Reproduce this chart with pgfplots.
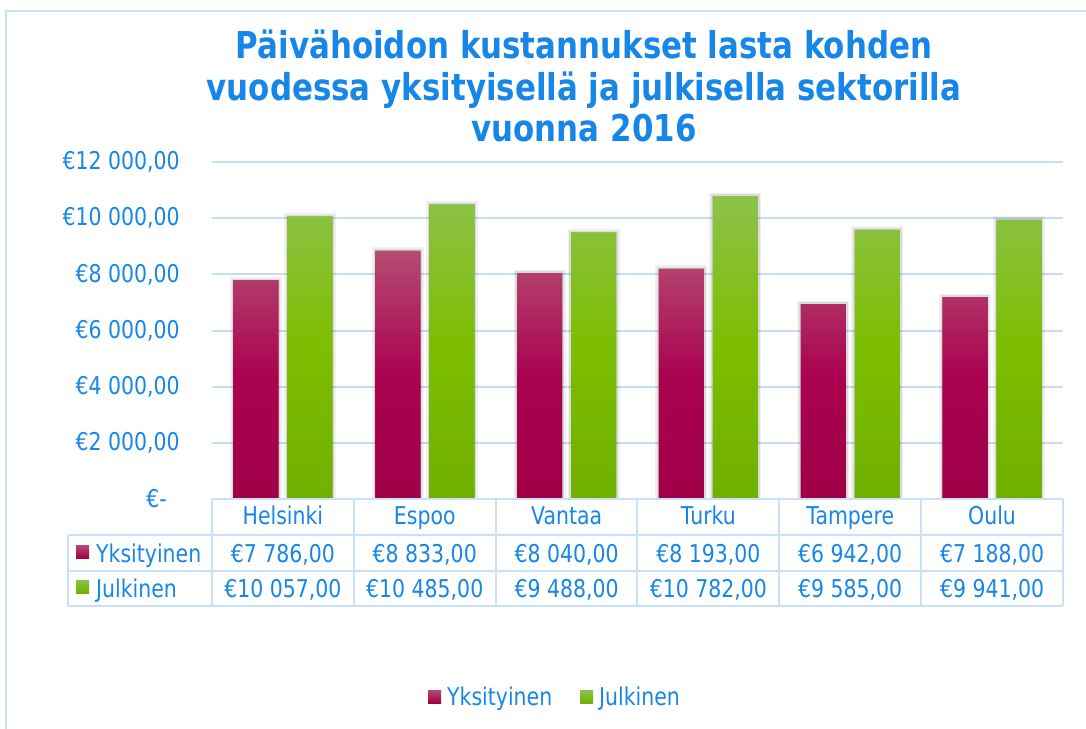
\documentclass[border=0pt]{standalone}
\usepackage{fontspec}
\setmainfont[FakeStretch=0.835]{DejaVu Sans}
\usepackage{pgfplots}
\usepackage{pgfplotstable}
\pgfplotsset{compat=1.18}
\definecolor{txtblue}{RGB}{22,134,232}
\definecolor{gridblue}{RGB}{197,222,248}
\definecolor{tblblue}{RGB}{200,224,248}
\definecolor{redtop}{RGB}{180,76,114}
\definecolor{redmid}{RGB}{170,2,80}
\definecolor{redbot}{RGB}{160,0,72}
\definecolor{grntop}{RGB}{140,194,74}
\definecolor{grnmid}{RGB}{124,190,0}
\definecolor{grnbot}{RGB}{112,176,0}
\newcommand{\tickfont}{\fontsize{24.5}{29}\selectfont}
\pgfplotstableread{
x city yk ju
0 Helsinki 7786 10057
1 Espoo 8833 10485
2 Vantaa 8040 9488
3 Turku 8193 10782
4 Tampere 6942 9585
5 Oulu 7188 9941
}\data
\begin{document}
\begin{tikzpicture}[x=1pt,y=1pt]
\path[use as bounding box] (0,0) rectangle (1086,-728);
% outer frame
\draw[tblblue, line width=2pt] (6,-740) -- (6,-11) -- (1100,-11);
% title
\begin{scope}[every node/.style={anchor=base, text=txtblue, font=\fontsize{37}{41.5}\selectfont\bfseries, inner sep=0pt}]
\node at (584,-58) {Päivähoidon kustannukset lasta kohden};
\node at (584,-100) {vuodessa yksityisellä ja julkisella sektorilla};
\node at (584,-141) {vuonna 2016};
\end{scope}
\begin{axis}[
  at={(212pt,-499pt)}, anchor=south west,
  scale only axis, width=851pt, height=337pt,
  xmin=-0.5, xmax=5.5, ymin=0, ymax=12000,
  axis line style={draw=none},
  major tick length=0pt,
  scaled ticks=false,
  ymajorgrids, grid style={line width=2pt, gridblue},
  ytick={0,2000,4000,6000,8000,10000,12000},
  yticklabels={{}, {€2 000,00}, {€4 000,00}, {€6 000,00}, {€8 000,00}, {€10 000,00}, {€12 000,00}},
  yticklabel style={anchor=east, inner sep=0pt, xshift=-32pt, text=txtblue, font=\tickfont},
  xtick={0,...,5},
  xticklabels={},
  ybar=9pt, bar width=45pt,
  every axis plot/.append style={preaction={draw=black, draw opacity=0.06, line width=7pt}, preaction={draw=black, draw opacity=0.09, line width=3.5pt}},
]
\addplot[draw=none, top color=redtop, bottom color=redbot, middle color=redmid] table[x=x,y=yk]{\data};
\addplot[draw=none, top color=grntop, bottom color=grnbot, middle color=grnmid] table[x=x,y=ju]{\data};
\end{axis}
% data table
\fill[white] (0,-500) rectangle (1086,-640);
\begin{scope}[tblblue, line width=2pt]
\draw (212,-499) -- (1063,-499);
\foreach \yy in {535,571,606} \draw (68,-\yy) -- (1063,-\yy);
\draw (68,-535) -- (68,-606);
\foreach \i in {0,...,6} \draw ({212+141.83*\i},-499) -- ({212+141.83*\i},-606);
\end{scope}
\draw[tblblue, line width=2pt] (6,-490) -- (6,-740);
\node[anchor=east, inner sep=0pt, text=txtblue, font=\tickfont] at (167,-499) {€-};
\foreach[count=\j from 0] \c in {Helsinki,Espoo,Vantaa,Turku,Tampere,Oulu}
  \node[anchor=base, text=txtblue, font=\tickfont, inner sep=0pt] at ({212+141.83*(\j+0.5)},-524) {\c};
\pgfkeys{/pgf/number format/.cd, fixed, fixed zerofill, precision=2, use comma, 1000 sep={\ }, assume math mode=true}
\foreach \i in {0,...,5} {
  \pgfplotstablegetelem{\i}{yk}\of\data
  \node[anchor=base, text=txtblue, font=\tickfont, inner sep=0pt] at ({212+141.83*(\i+0.5)},-562) {€\pgfmathprintnumber{\pgfplotsretval}};
  \pgfplotstablegetelem{\i}{ju}\of\data
  \node[anchor=base, text=txtblue, font=\tickfont, inner sep=0pt] at ({212+141.83*(\i+0.5)},-597) {€\pgfmathprintnumber{\pgfplotsretval}};
}
% row labels
\shade[top color=redtop, bottom color=redbot] (76,-545) rectangle (89,-558);
\node[anchor=base west, text=txtblue, font=\tickfont, inner sep=0pt] at (96,-562) {Yksityinen};
\shade[top color=grntop, bottom color=grnbot] (76,-580) rectangle (89,-593);
\node[anchor=base west, text=txtblue, font=\tickfont, inner sep=0pt] at (96,-597) {Julkinen};
% legend
\shade[top color=redtop, bottom color=redbot] (428,-690) rectangle (441,-703);
\node[anchor=base west, text=txtblue, font=\tickfont, inner sep=0pt] at (447,-705) {Yksityinen};
\shade[top color=grntop, bottom color=grnbot] (580,-690) rectangle (593,-703);
\node[anchor=base west, text=txtblue, font=\tickfont, inner sep=0pt] at (599,-705) {Julkinen};
\end{tikzpicture}
\end{document}
